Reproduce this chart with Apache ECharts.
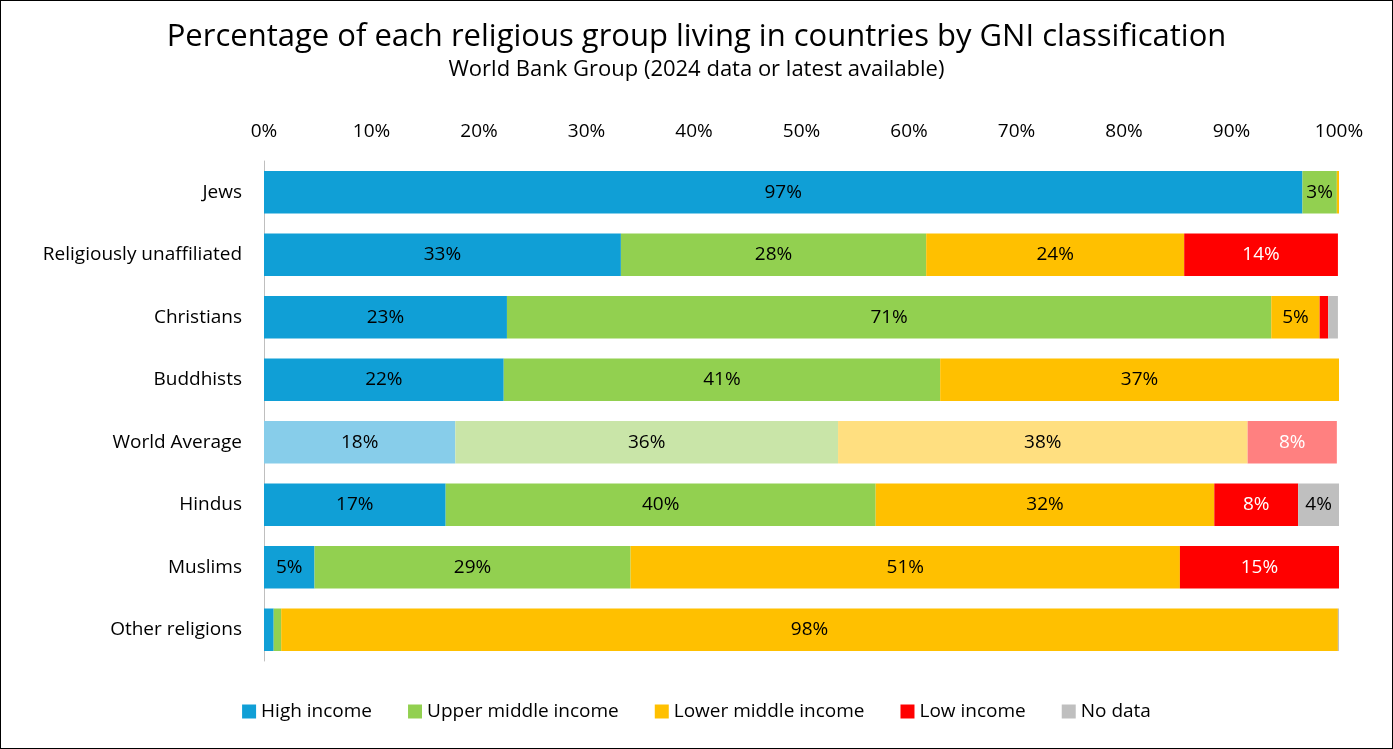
<!DOCTYPE html>
<html><head><meta charset="utf-8">
<script src="https://cdn.jsdelivr.net/npm/echarts@6/dist/echarts.min.js"></script>
<style>html,body{margin:0;padding:0;background:#fff}#c{width:1393px;height:749px;box-sizing:border-box;border:1.5px solid #000}</style>
</head><body><div id="c"></div>
<script>
const categories = ["Jews","Religiously unaffiliated","Christians","Buddhists","World Average","Hindus","Muslims","Other religions"];
const highIncome =        [96.6, 33.2, 22.6, 22.3, 17.8, 16.9, 4.7, 0.9];
const upperMiddleIncome = [3.2, 28.4, 71.1, 40.6, 35.6, 40.0, 29.4, 0.7];
const lowerMiddleIncome = [0.2, 24.0, 4.5, 37.1, 38.1, 31.5, 51.1, 98.3];
const lowIncome =         [0, 14.3, 0.8, 0, 8.3, 7.8, 14.8, 0];
const noData =            [0, 0, 0.9, 0, 0, 3.8, 0, 0.1];
const seriesNames = ["High income","Upper middle income","Lower middle income","Low income","No data"];
const colors = ["#109fd6","#92d050","#ffc000","#ff0000","#bfbfbf"];
const lightColors = ["#87cdea","#c9e5a8","#ffdf80","#ff8080","#dfdfdf"];
const labelColors = ["#000","#000","#000","#fff","#000"];
const xTicks = [0,10,20,30,40,50,60,70,80,90,100];
const font = "Open Sans";
const all = [highIncome, upperMiddleIncome, lowerMiddleIncome, lowIncome, noData];
const series = all.map((arr,i)=>({
  name: seriesNames[i], type:'bar', stack:'t', barWidth:'68%',
  itemStyle:{color:colors[i]},
  data: arr.map((v,j)=>({value:v, itemStyle: categories[j]==="World Average"?{color:lightColors[i]}:undefined})),
  label:{show:true, position:'inside', fontFamily:font, fontSize:19, color:labelColors[i],
    formatter:p=> p.value>=2.5 ? Math.round(p.value)+'%' : ''}
}));
const chart = echarts.init(document.getElementById('c'));
chart.setOption({
  animation:false,
  title:{text:'Percentage of each religious group living in countries by GNI classification',
    subtext:'World Bank Group (2024 data or latest available)', left:'center', top:16, itemGap:6,
    textStyle:{fontFamily:font,fontSize:31,fontWeight:'normal',color:'#000'},
    subtextStyle:{fontFamily:font,fontSize:22,color:'#000'}},
  legend:{bottom:22, left:'center', itemWidth:14, itemHeight:14, itemGap:36, icon:'rect',
    textStyle:{fontFamily:font,fontSize:19,color:'#000'}, data:seriesNames},
  grid:{left:263,right:53,top:160,bottom:87,containLabel:false},
  xAxis:{type:'value', position:'top', min:0, max:100, interval:10,
    axisLabel:{formatter:v=>v+'%', fontFamily:font, fontSize:19, color:'#000', margin:20},
    splitLine:{show:false}, axisLine:{show:false}, axisTick:{show:false}},
  yAxis:{type:'category', inverse:true, data:categories,
    axisLine:{lineStyle:{color:'#bfbfbf'}}, axisTick:{show:false},
    axisLabel:{fontFamily:font,fontSize:19,color:'#000',margin:22}},
  series
});
</script></body></html>
